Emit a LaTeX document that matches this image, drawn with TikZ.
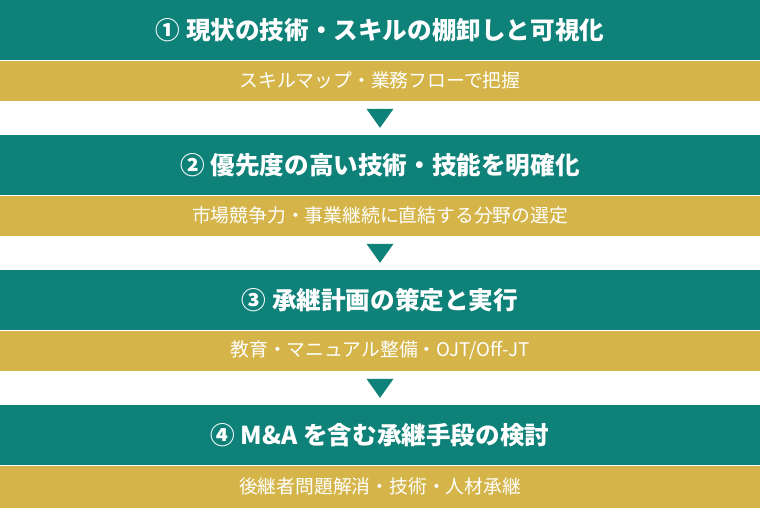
\documentclass[tikz,border=0pt]{standalone}
\usepackage{fontspec}
\setmainfont{Noto Sans CJK JP}
\usetikzlibrary{calc}
\definecolor{tealband}{RGB}{14,129,121}
\definecolor{goldband}{RGB}{213,181,74}
\tikzset{
  x=1pt,y=1pt,
  headband/.style={fill=tealband,draw=none,minimum width=760pt,minimum height=60pt,inner sep=0pt,
    text=white,font=\fontsize{24.6}{28}\selectfont\bfseries,anchor=north},
  subband/.style={fill=goldband,draw=none,minimum width=760pt,minimum height=40pt,inner sep=0pt,
    text=white,font=\fontsize{18.8}{22}\selectfont,anchor=north},
  arrowtri/.style={fill=tealband,draw=none}
}
\begin{document}
\begin{tikzpicture}
\useasboundingbox (0,0) rectangle (760,-507);
\fill[white] (0,0) rectangle (760,-507);
\node[headband] (h1) at (380,0) {① 現状の技術・スキルの棚卸しと可視化};
\node[subband] (s1) at (h1.south) {スキルマップ・業務フローで把握};
\node[headband] (h2) at (380,-135) {② 優先度の高い技術・技能を明確化};
\node[subband] (s2) at (h2.south) {市場競争力・事業継続に直結する分野の選定};
\node[headband] (h3) at (380,-270) {③ 承継計画の策定と実行};
\node[subband] (s3) at (h3.south) {教育・マニュアル整備・OJT/Off-JT};
\node[headband] (h4) at (380,-405) {④ M\&A を含む承継手段の検討};
\node[subband,minimum height=42pt] (s4) at (h4.south) {後継者問題解消・技術・人材承継};
\foreach \a/\b in {s1/h2,s2/h3,s3/h4}{
  \fill[arrowtri] ($(\a.south)+(-13.5,-8)$) -- ++(27,0) -- ++(-13.5,-19) -- cycle;
}
\end{tikzpicture}
\end{document}
